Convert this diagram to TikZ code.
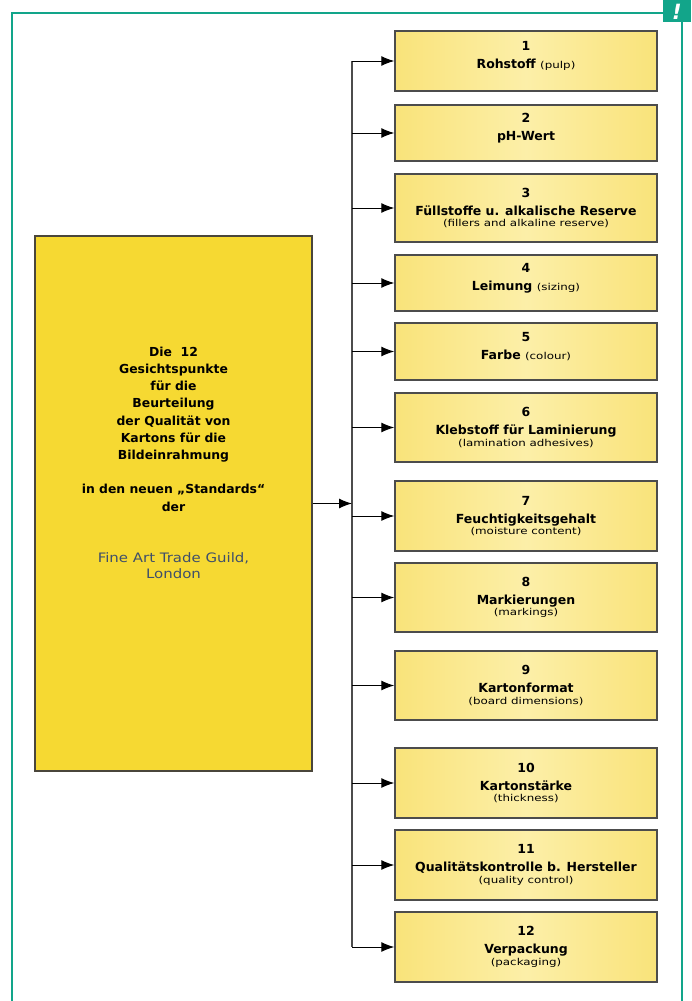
\documentclass[tikz,border=0pt]{standalone}
\usepackage{fontspec}
\setmainfont{DejaVu Sans}
\newfontfamily\widefont[FakeStretch=1.25]{DejaVu Sans}
\newfontfamily\guildfont[FakeStretch=1.15]{DejaVu Sans}
\usetikzlibrary{arrows.meta}

\definecolor{framegreen}{HTML}{12A58A}
\definecolor{mainyellow}{HTML}{F6D932}
\definecolor{paleyellow}{HTML}{F9E37A}
\definecolor{lightyellow}{HTML}{FCEFA8}
\definecolor{guildblue}{HTML}{3F4F6A}

\tikzset{
  mainbox/.style={draw=black!70!yellow!60!black, line width=1.4pt, fill=mainyellow},
  itembox/.style={draw=black!70, line width=1.4pt, left color=paleyellow, right color=paleyellow,
                  middle color=lightyellow, minimum width=262pt, align=center, inner sep=0pt,
                  font=\bfseries\fontsize{12.5}{18}\selectfont},
  arr/.style={-{Latex[length=13pt,width=10pt]}, line width=1pt, black},
  busline/.style={line width=1.2pt, black!70}
}
\newcommand{\subt}[1]{{\widefont\mdseries\fontsize{9.5}{10}\selectfont #1}}

\begin{document}
\begin{tikzpicture}[x=1pt,y=-1pt]
  \useasboundingbox (0,0) rectangle (691,1001);

  % green frame with the corner mark
  \draw[framegreen, line width=2.5pt] (12,1003) -- (12,13) -- (682,13) -- (682,1003);
  \fill[framegreen] (663,0) rectangle (691,22);
  \node[text=white, font=\bfseries\itshape\fontsize{21}{21}\selectfont, inner sep=0pt] (mark) at (677,11.5) {!};

  % left box
  \node[mainbox, minimum width=277pt, minimum height=535pt] (main) at (173.5,503.5) {};
  \node[align=center, font=\bfseries\fontsize{12.4}{17.2}\selectfont] (maintext) at (173.5,429)
    {Die \ 12\\Gesichtspunkte\\für die\\Beurteilung\\der Qualität von\\Kartons für die\\Bildeinrahmung\\[17.2pt]
     in den neuen „Standards“\\der};
  \node[align=center, text=guildblue, font=\guildfont\fontsize{13}{16}\selectfont] (guild) at (173.5,566)
    {Fine Art Trade Guild,\\London};

  % the twelve points
  \foreach \i/\top/\bot/\name/\sub in {
      1/31/91/{Rohstoff \subt{(pulp)}}/{},
      2/105/161/{pH-Wert}/{},
      3/174/242/{Füllstoffe u. alkalische Reserve}/{(fillers and alkaline reserve)},
      4/255/311/{Leimung \subt{(sizing)}}/{},
      5/323/380/{Farbe \subt{(colour)}}/{},
      6/393/462/{Klebstoff für Laminierung}/{(lamination adhesives)},
      7/481/551/{Feuchtigkeitsgehalt}/{(moisture content)},
      8/563/632/{Markierungen}/{(markings)},
      9/651/720/{Kartonformat}/{(board dimensions)},
      10/748/818/{Kartonstärke}/{(thickness)},
      11/830/900/{Qualitätskontrolle b. Hersteller}/{(quality control)},
      12/912/982/{Verpackung}/{(packaging)}} {
    \node[itembox, minimum height=\bot-\top] (b\i) at (526,{(\top+\bot)/2})
      {\i\\\name\\[-6.5pt]\subt{\sub}};
  }

  % bus and arrows
  \coordinate (bus) at (352,0);
  \draw[busline] (bus |- b1.west) -- (bus |- b12.west);
  \draw[arr] (main.east) -- (bus |- main.east);
  \foreach \i in {1,...,12} {
    \draw[arr] (bus |- b\i.west) -- (b\i.west);
  }
\end{tikzpicture}
\end{document}
